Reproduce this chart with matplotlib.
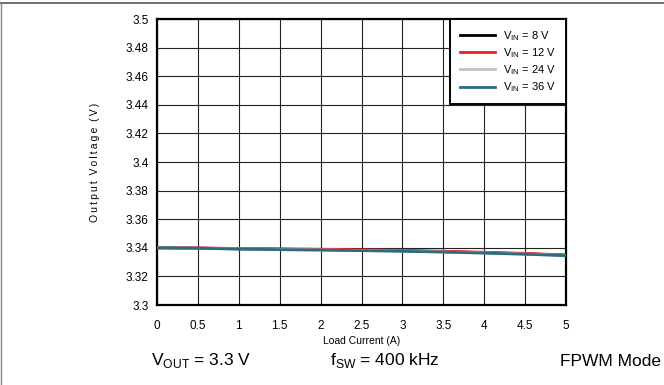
import matplotlib
matplotlib.use("Agg")
import matplotlib.pyplot as plt
from matplotlib.lines import Line2D

load_current = [0, 0.5, 1, 1.5, 2, 2.5, 3, 3.5, 4, 4.5, 5]
vout_8v = [3.3400, 3.3398, 3.3393, 3.3390, 3.3387, 3.3383, 3.3379, 3.3373, 3.3366, 3.3358, 3.3348]
vout_12v = [3.3400, 3.3399, 3.3395, 3.3393, 3.3390, 3.3386, 3.3382, 3.3376, 3.3369, 3.3361, 3.3350]
vout_24v = [3.3400, 3.3397, 3.3392, 3.3388, 3.3385, 3.3381, 3.3377, 3.3371, 3.3364, 3.3356, 3.3346]
vout_36v = [3.3400, 3.3397, 3.3391, 3.3387, 3.3384, 3.3380, 3.3376, 3.3370, 3.3363, 3.3355, 3.3345]
labels = ["V$_{\\rm IN}$ = 8 V", "V$_{\\rm IN}$ = 12 V", "V$_{\\rm IN}$ = 24 V", "V$_{\\rm IN}$ = 36 V"]
colors = ["#000000", "#e8231e", "#c0c0c0", "#2e6a82"]

plt.rcParams["font.family"] = ["Liberation Sans", "DejaVu Sans"]
plt.rcParams["mathtext.fontset"] = "custom"
plt.rcParams["mathtext.rm"] = "Liberation Sans"

fig = plt.figure(figsize=(6.64, 3.85), dpi=100)
ax = fig.add_axes([157 / 664, 1 - 305 / 385, 409 / 664, 286 / 385])

for y, c in zip([vout_8v, vout_12v, vout_24v, vout_36v], colors):
    ax.plot(load_current, y, color=c, lw=2.0, zorder=3)

ax.set_xlim(0, 5)
ax.set_ylim(3.3, 3.5)
ax.set_xticks([0, 0.5, 1, 1.5, 2, 2.5, 3, 3.5, 4, 4.5, 5])
ax.set_xticklabels(["0", "0.5", "1", "1.5", "2", "2.5", "3", "3.5", "4", "4.5", "5"])
yt = [3.3 + 0.02 * i for i in range(11)]
ax.set_yticks(yt)
ax.set_yticklabels(["3.3", "3.32", "3.34", "3.36", "3.38", "3.4", "3.42", "3.44", "3.46", "3.48", "3.5"])
ax.tick_params(axis="y", length=0, labelsize=8.5, pad=6)
ax.tick_params(axis="x", length=0, labelsize=8.5, pad=11)
ax.grid(True, color="#222222", lw=0.8)
for s in ax.spines.values():
    s.set_linewidth(1.6)
ax.set_xlabel("Load Current (A)", fontsize=7.5, labelpad=3)
# letter-spaced label, as in the reference
ylab = "  ".join("\u2009".join(w) for w in "Output Voltage (V)".split(" "))
ax.set_ylabel(ylab, fontsize=7.5)
ax.yaxis.set_label_coords(-0.14, 0.5)

handles = [Line2D([], [], color=c, lw=2.0) for c in colors]
leg = ax.legend(handles, labels, loc="upper right", fontsize=8, frameon=True, fancybox=False,
                edgecolor="black", borderaxespad=0.0, handlelength=3.2, labelspacing=0.3,
                borderpad=0.9, handletextpad=0.7)
leg.get_frame().set_linewidth(1.4)
leg.get_frame().set_alpha(1)

fig.text(201 / 664, 1 - 361 / 385, "V$_{\\rm OUT}$ = 3.3 V", fontsize=12.5, ha="center", va="center")
fig.text(385 / 664, 1 - 361 / 385, "f$_{\\rm SW}$ = 400 kHz", fontsize=12.5, ha="center", va="center")
fig.text(611 / 664, 1 - 361 / 385, "FPWM Mode", fontsize=12.5, ha="center", va="center")

# outer frame lines (top and left)
fig.add_artist(Line2D([0, 1], [1 - 3 / 385, 1 - 3 / 385], color="#555555", lw=1.2, transform=fig.transFigure))
fig.add_artist(Line2D([1 / 664, 1 / 664], [0, 1 - 3 / 385], color="#888888", lw=1.0, transform=fig.transFigure))

fig.savefig("out.png", dpi=100)
